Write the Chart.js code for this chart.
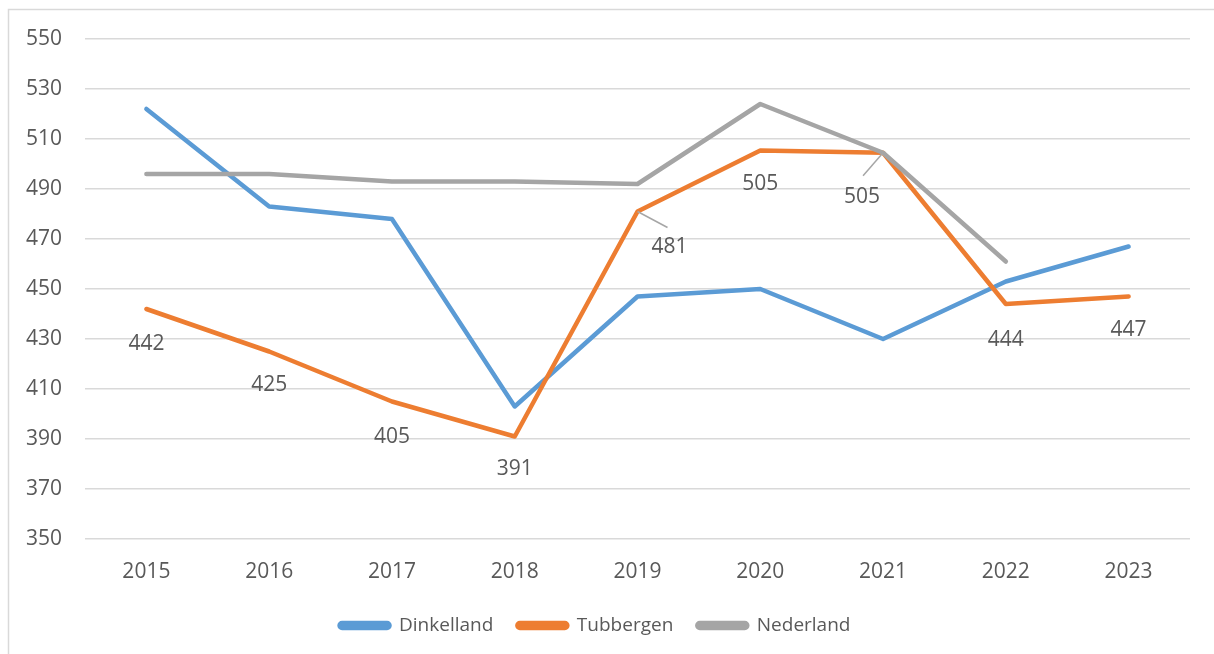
<!DOCTYPE html>
<html><head><meta charset="utf-8">
<script src="https://cdn.jsdelivr.net/npm/chart.js@4/dist/chart.umd.min.js"></script>
<style>html,body{margin:0;padding:0;background:#fff;}canvas{display:block;}</style>
</head><body>
<canvas id="c" width="1214" height="654"></canvas>
<script>
const categories = ['2015','2016','2017','2018','2019','2020','2021','2022','2023'];
const dinkelland = [522, 483, 478, 403, 447, 450, 430, 453, 467];
const tubbergen  = [442, 425, 405, 391, 481, 505.4, 504.5, 444, 447];
const nederland  = [496, 496, 493, 493, 492, 524, 504.5, 461, null];
const seriesNames = ['Dinkelland','Tubbergen','Nederland'];
const yTicks = [350,370,390,410,430,450,470,490,510,530,550];

// label placement style (offsets from point, in px) for Tubbergen labels
const labelOffsets = [[0,35],[0,34],[0,36],[0,33],[32,36],[0,34],[-21,44],[0,36],[0,34]];
const leaderLines = {4:true, 6:true};

const FONT = "'Open Sans', sans-serif";
const TXT = '#595959';

const framePlugin = {
  id:'frame',
  beforeDraw(chart){
    const ctx = chart.ctx;
    ctx.save();
    ctx.fillStyle='#fff';
    ctx.fillRect(0,0,chart.width,chart.height);
    ctx.strokeStyle='#d9d9d9';
    ctx.lineWidth=1.5;
    ctx.strokeRect(8.5,9.5,1400,1000);
    ctx.restore();
  }
};

const labelPlugin = {
  id:'tlabels',
  afterDatasetsDraw(chart){
    const ctx = chart.ctx;
    const meta = chart.getDatasetMeta(1);
    ctx.save();
    ctx.font = "21px " + FONT;
    ctx.fillStyle = TXT;
    ctx.textAlign='center';
    ctx.textBaseline='middle';
    meta.data.forEach((pt,i)=>{
      const v = tubbergen[i];
      if(v==null) return;
      const [dx,dy] = labelOffsets[i];
      const lx = pt.x+dx, ly = pt.y+dy;
      if(leaderLines[i]){
        ctx.strokeStyle='#a6a6a6';
        ctx.lineWidth=1.5;
        ctx.beginPath();
        ctx.moveTo(pt.x, pt.y);
        if(dx>0) ctx.lineTo(lx-2, ly-20);
        else ctx.lineTo(lx+1, ly-21);
        ctx.stroke();
      }
      ctx.fillText(String(Math.round(v)), lx, ly);
    });
    ctx.restore();
  }
};

new Chart(document.getElementById('c'), {
  type:'line',
  data:{
    labels:categories,
    datasets:[
      {label:seriesNames[0], data:dinkelland, borderColor:'#5B9BD5', backgroundColor:'#5B9BD5', order:3},
      {label:seriesNames[1], data:tubbergen, borderColor:'#ED7D31', backgroundColor:'#ED7D31', order:2},
      {label:seriesNames[2], data:nederland, borderColor:'#A5A5A5', backgroundColor:'#A5A5A5', order:1}
    ]
  },
  options:{
    responsive:false,
    animation:false,
    devicePixelRatio:1,
    elements:{
      line:{borderWidth:4.5, tension:0, borderCapStyle:'round', borderJoinStyle:'round', fill:false},
      point:{radius:0, hoverRadius:0}
    },
    layout:{padding:{left:0, right:24, top:39, bottom:9}},
    scales:{
      x:{
        offset:true,
        grid:{display:false, drawTicks:false},
        border:{display:false},
        ticks:{color:TXT, font:{family:FONT, size:21}, padding:20, maxRotation:0},
        afterFit(s){ s.height = 53; }
      },
      y:{
        min:350, max:550,
        afterBuildTicks(s){ s.ticks = yTicks.map(v=>({value:v})); },
        grid:{color:'#d9d9d9', lineWidth:1.5, drawTicks:false},
        border:{display:false},
        ticks:{color:TXT, font:{family:FONT, size:21}, padding:23},
        afterFit(s){ s.width = 85; }
      }
    },
    plugins:{
      legend:{
        position:'bottom',
        labels:{
          color:TXT, font:{family:FONT, size:19},
          boxWidth:50, boxHeight:5, padding:24,
          useBorderRadius:true, borderRadius:2.5,
          sort:(a,b)=>a.datasetIndex-b.datasetIndex
        }
      },
      tooltip:{enabled:false}
    }
  },
  plugins:[framePlugin, labelPlugin]
});
</script>
</body></html>
